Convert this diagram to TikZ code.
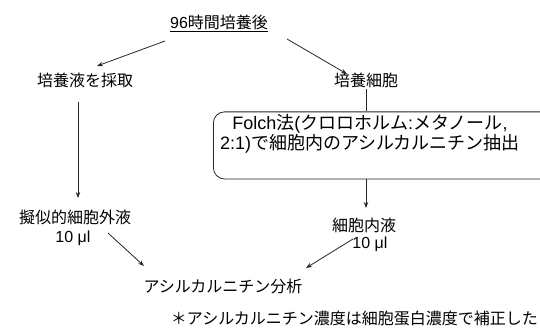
\documentclass[tikz,border=0pt]{standalone}
\usepackage{fontspec}
\setmainfont{Liberation Sans}
\newfontfamily\jp{Noto Sans CJK JP}
\usetikzlibrary{arrows.meta}
\tikzset{
  lbl/.style={inner sep=1pt, font=\fontsize{16}{18}\selectfont},
  arr/.style={draw=black!85, line width=0.8pt, -{Stealth[length=6pt,width=4.5pt]}},
  ln/.style={draw=black!85, line width=0.8pt},
}
\begin{document}
\begin{tikzpicture}[x=1pt,y=-1pt]
\useasboundingbox (0,0) rectangle (540,331);
\clip (0,0) rectangle (540,331);
\node[lbl] (top) at (219,23) {\underline{96{\jp 時間培養後}}};
\node[lbl] (med) at (85,80) {\jp 培養液を採取};
\node[lbl] (cult) at (366,80) {\jp 培養細胞};
\node[draw=black!85, line width=0.8pt, rounded corners=11pt, minimum width=350pt, minimum height=67pt, anchor=north west, inner sep=0pt] (box) at (213,111.5) {};
\node[inner sep=1pt, align=center, font=\fontsize{18}{19.5}\selectfont] (folch) at (370,134) {Folch{\jp 法}({\jp クロロホルム}:{\jp メタノール},\\2:1){\jp で細胞内のアシルカルニチン抽出}};
\node[lbl] (ext) at (75,217) {\jp 擬似的細胞外液};
\node[lbl] (extv) at (73,238) {10 μl};
\node[lbl] (intr) at (364,225) {\jp 細胞内液};
\node[lbl] (intv) at (370,244) {10 μl};
\node[lbl] (ana) at (223,286) {\jp アシルカルニチン分析};
\node[lbl, anchor=east] (note) at (539,318) {\jp ＊アシルカルニチン濃度は細胞蛋白濃度で補正した};
\coordinate (t1) at (165,41);
\coordinate (t2) at (287,39);
\coordinate (m1) at (97,66);
\coordinate (c1) at (347,74);
\coordinate (ld1) at (78,102);
\coordinate (ld2) at (78,198);
\coordinate (rd2) at (366,208);
\draw[arr] (t1) -- (m1);
\draw[arr] (t2) -- (c1);
\draw[ln] (cult.south) -- (box.north -| cult.south);
\draw[arr] (box.south -| cult.south) -- (rd2);
\draw[arr] (ld1) -- (ld2);
\coordinate (l1) at (108,233);
\coordinate (l2) at (144,266);
\coordinate (r1) at (353,239);
\coordinate (r2) at (306,268);
\draw[arr] (l1) -- (l2);
\draw[arr] (r1) -- (r2);
\end{tikzpicture}
\end{document}
